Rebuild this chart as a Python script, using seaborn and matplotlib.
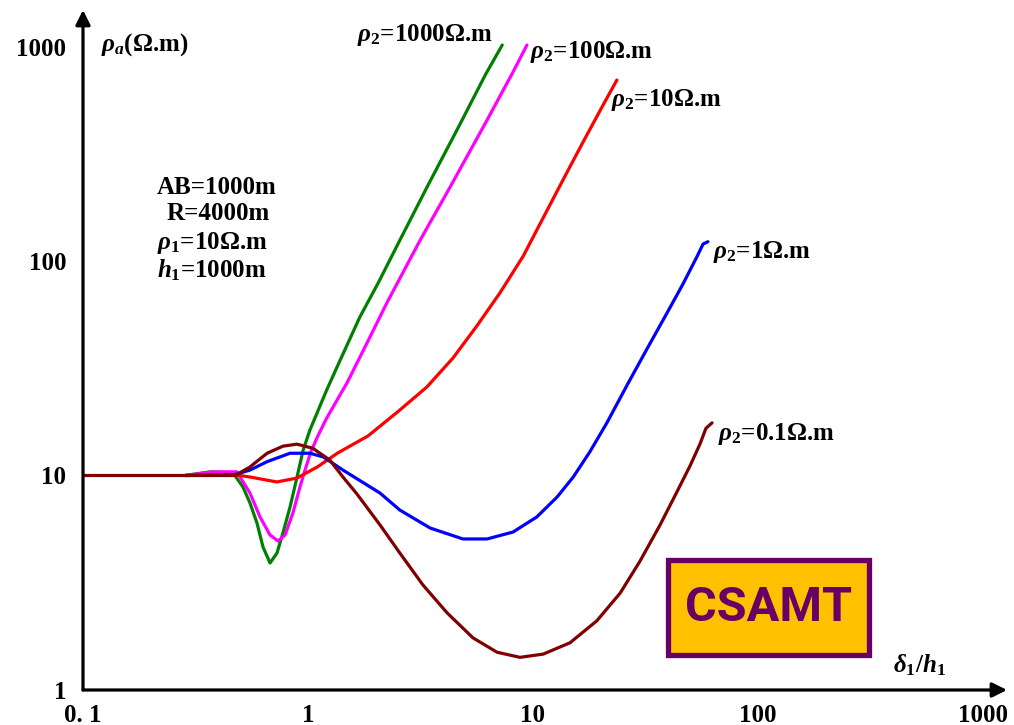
import matplotlib
matplotlib.use("Agg")
import matplotlib.pyplot as plt
import seaborn as sns
import pandas as pd
from matplotlib.patches import Rectangle

# ---------------- data ----------------
x_rho1000 = [0.284, 0.367, 0.464, 0.514, 0.552, 0.593, 0.631, 0.678, 0.728, 0.774, 0.832, 0.894, 0.951, 1.02, 1.21, 1.39, 1.70, 2.05, 2.56, 3.38, 4.74, 6.15, 7.30]
y_rho1000 = [10.0, 10.4, 10.3, 8.84, 7.45, 6.01, 4.64, 3.91, 4.35, 5.40, 7.13, 9.84, 13.1, 16.3, 25.0, 34.5, 54.8, 78.9, 125, 221, 435, 740, 1016]

x_rho100 = [0.284, 0.378, 0.483, 0.552, 0.612, 0.678, 0.736, 0.791, 0.857, 0.921, 0.970, 1.03, 1.10, 1.21, 1.49, 1.83, 2.24, 3.15, 4.28, 6.25, 8.15, 9.40]
y_rho100 = [10.0, 10.4, 10.4, 8.29, 6.41, 5.28, 4.95, 5.28, 6.69, 8.84, 10.6, 12.9, 15.1, 18.5, 27.0, 41.5, 63.7, 125, 221, 454, 760, 1016]

x_rho10 = [0.284, 0.483, 0.552, 0.727, 0.893, 1.10, 1.35, 1.85, 2.56, 3.38, 4.41, 5.63, 7.13, 9.03, 11.1, 13.6, 16.7, 20.5, 23.6]
y_rho10 = [10.0, 10.05, 9.84, 9.33, 9.73, 10.96, 12.7, 15.3, 20.2, 25.9, 35.3, 49.8, 71.0, 105, 159, 239, 359, 534, 698]

x_rho1 = [0.284, 0.474, 0.552, 0.658, 0.832, 1.02, 1.17, 1.43, 1.83, 2.09, 2.56, 3.49, 4.88, 6.25, 8.15, 10.4, 12.8, 15.1, 17.9, 21.3, 26.2, 32.1, 39.4, 46.4, 53.6, 57.0, 59.9]
y_rho1 = [10.0, 10.1, 10.6, 11.6, 12.7, 12.7, 12.2, 10.6, 9.03, 8.28, 6.90, 5.69, 5.06, 5.06, 5.45, 6.41, 7.94, 9.84, 12.9, 17.6, 26.4, 38.9, 57.2, 78.1, 105, 120, 123]

x_rho01 = [0.1, 0.474, 0.552, 0.658, 0.774, 0.893, 1.05, 1.25, 1.43, 1.65, 1.85, 2.09, 2.56, 3.24, 4.15, 5.41, 6.92, 8.75, 11.1, 14.6, 19.2, 24.4, 29.9, 36.7, 43.6, 49.9, 55.2, 58.7, 62.5]
y_rho01 = [10.0, 10.0, 10.96, 12.7, 13.7, 14.0, 13.4, 11.8, 9.84, 8.20, 6.98, 5.88, 4.35, 3.09, 2.29, 1.75, 1.50, 1.42, 1.47, 1.66, 2.10, 2.83, 3.99, 5.88, 8.38, 11.1, 14.0, 16.6, 17.6]

series_names = ["1000", "100", "10", "1", "0.1"]
series_colors = ["#008000", "#ff00ff", "#ff0000", "#0000ff", "#800000"]
series_x = [x_rho1000, x_rho100, x_rho10, x_rho1, x_rho01]
series_y = [y_rho1000, y_rho100, y_rho10, y_rho1, y_rho01]

x_ticks = [0.1, 1, 10, 100, 1000]
x_tick_labels = ["0. 1", "1", "10", "100", "1000"]
y_ticks = [1, 10, 100, 1000]
y_tick_labels = ["1", "10", "100", "1000"]

# ---------------- style ----------------
sns.set_style("white")
plt.rcParams["font.family"] = ["Liberation Serif", "DejaVu Serif"]
plt.rcParams["mathtext.fontset"] = "custom"
plt.rcParams["mathtext.rm"] = "Liberation Serif:bold"
plt.rcParams["mathtext.it"] = "Liberation Serif:italic:bold"
plt.rcParams["mathtext.bf"] = "Liberation Serif:bold"

W, H = 1014, 725
fig = plt.figure(figsize=(W / 100, H / 100), dpi=100, facecolor="white")

# axes frame in pixels
x0_px, x1_px = 83, 1007
y0_px, y1_px = 690, 10
ax = fig.add_axes([x0_px / W, 1 - y0_px / H, (x1_px - x0_px) / W, (y0_px - y1_px) / H])
ax.set_facecolor("white")

for name, col, xs, ys in zip(series_names, series_colors, series_x, series_y):
    df = pd.DataFrame({"x": xs, "y": ys})
    sns.lineplot(data=df, x="x", y="y", color=col, linewidth=2.3, sort=False,
                 estimator=None, ax=ax)

ax.set_xscale("log")
ax.set_yscale("log")
dec_x = 225.0
dec_y = 214.5
ax.set_xlim(0.1, 10 ** (-1 + (x1_px - x0_px) / dec_x))
ax.set_ylim(1, 10 ** ((y0_px - y1_px) / dec_y))
ax.set_xlabel("")
ax.set_ylabel("")

for s in ["top", "right", "left", "bottom"]:
    ax.spines[s].set_visible(False)

# arrow axes
arrow_kw = dict(arrowstyle="-|>", lw=2.3, color="black", mutation_scale=22,
                shrinkA=0, shrinkB=0)
ax.annotate("", xy=(0, 1), xytext=(0, 0), xycoords="axes fraction",
            textcoords="axes fraction", arrowprops=arrow_kw, annotation_clip=False)
ax.annotate("", xy=(1, 0), xytext=(0, 0), xycoords="axes fraction",
            textcoords="axes fraction", arrowprops=arrow_kw, annotation_clip=False)

ax.set_xticks(x_ticks)
ax.set_xticklabels(x_tick_labels)
ax.set_yticks(y_ticks)
ax.set_yticklabels(y_tick_labels)
ax.minorticks_off()
ax.tick_params(axis="both", direction="in", length=8, width=2, color="black",
               labelsize=18, labelcolor="black")
ax.tick_params(axis="x", pad=10)
ax.tick_params(axis="y", pad=12)
for lab in ax.get_xticklabels() + ax.get_yticklabels():
    lab.set_fontweight("bold")
    lab.set_family("Liberation Serif")


def ftext(px, py, s, size=18, **kw):
    fig.text(px / W, 1 - py / H, s, fontsize=size, fontweight="bold",
             family="Liberation Serif", va="center", ha="left", color="black", **kw)


ftext(101, 45, r"$\rho_a$(Ω.m)")
ftext(157, 187, "AB=1000m")
ftext(167, 214, "R=4000m")
ftext(157, 243, r"$\rho_1$=10Ω.m")
ftext(157, 270, r"$h_1$=1000m")
ftext(357, 35, r"$\rho_2$=1000Ω.m")
ftext(530, 52, r"$\rho_2$=100Ω.m")
ftext(611, 100, r"$\rho_2$=10Ω.m")
ftext(713, 252, r"$\rho_2$=1Ω.m")
ftext(718, 434, r"$\rho_2$=0.1Ω.m")
ftext(893, 665, r"$\delta_1/h_1$")

# CSAMT box
rect = Rectangle((668 / W, 1 - 655 / H), 201 / W, 95 / H, transform=fig.transFigure,
                 facecolor="#FFC000", edgecolor="#660066", linewidth=3.8, zorder=5)
fig.patches.append(rect)
fig.text(769 / W, 1 - 608 / H, "CSAMT", fontsize=35, fontweight="bold",
         family="Roboto", color="#660066",
         ha="center", va="center", zorder=6)

fig.savefig("out.png", dpi=100, facecolor="white")
